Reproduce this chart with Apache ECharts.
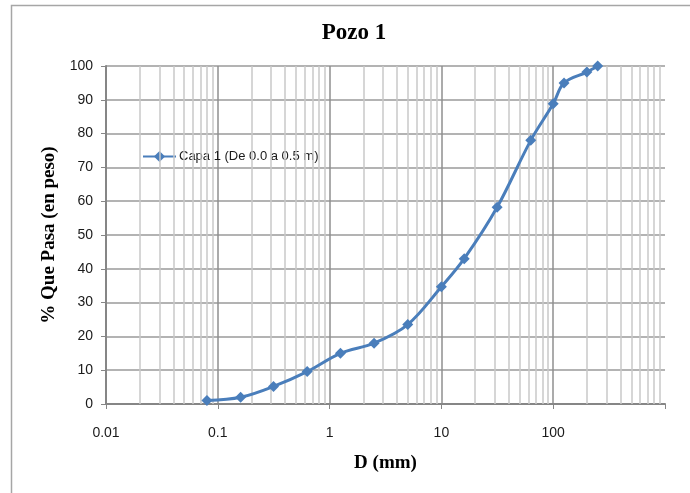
<!DOCTYPE html>
<html>
<head>
<meta charset="utf-8">
<title>Pozo 1</title>
<script src="https://cdn.jsdelivr.net/npm/echarts@6/dist/echarts.min.js"></script>
<style>
  html, body { margin: 0; padding: 0; background: #ffffff; }
  #chart { width: 690px; height: 493px; }
</style>
</head>
<body>
<div id="chart"></div>
<script>
// Sieve sizes (mm) and cumulative percent passing
const sieveSizes = [0.08, 0.16, 0.315, 0.63, 1.25, 2.5, 5, 10, 16, 31.5, 63, 100, 125, 200, 250];
const percentPassing = [1, 2, 5.2, 9.6, 15, 18, 23.5, 34.7, 43, 58.2, 78, 88.8, 95, 98.2, 100];
const seriesName = 'Capa 1 (De 0.0 a 0.5 m)';

// Axis ranges and labels
const xDecades = [0.01, 0.1, 1, 10, 100, 1000];
const xTickLabels = ['0.01', '0.1', '1', '10', '100', ''];
const yTicks = [0, 10, 20, 30, 40, 50, 60, 70, 80, 90, 100];

// Intermediate log grid lines (2..9 within each decade)
const minorLines = [];
for (let d = 0; d < xDecades.length - 1; d++) {
  for (let m = 2; m <= 9; m++) {
    minorLines.push({ xAxis: +(xDecades[d] * m).toPrecision(6) });
  }
}

const points = sieveSizes.map((s, i) => [s, percentPassing[i]]);

const chart = echarts.init(document.getElementById('chart'), null, { renderer: 'canvas' });

chart.setOption({
  animation: false,
  backgroundColor: '#ffffff',
  graphic: [
    {
      type: 'rect',
      shape: { x: 11.5, y: 5.5, width: 700, height: 500 },
      style: { fill: 'none', stroke: '#a6a6a6', lineWidth: 1.5 },
      silent: true, z: -10
    },
    {
      type: 'text',
      x: 354, y: 33,
      style: {
        text: 'Pozo 1',
        font: 'bold 23px "Liberation Serif", "Times New Roman", serif',
        fill: '#000000',
        textAlign: 'center',
        textVerticalAlign: 'middle'
      },
      silent: true
    }
  ],
  grid: { left: 106, right: 25, top: 66, bottom: 89, containLabel: false },
  legend: {
    left: 137, top: 145,
    itemWidth: 33, itemHeight: 14, itemGap: 6,
    data: [seriesName],
    textStyle: { fontFamily: '"Liberation Sans", Arial, sans-serif', fontSize: 13, color: '#1a1a1a', padding: [0, 0, 0, -2] }
  },
  xAxis: {
    type: 'log',
    logBase: 10,
    min: xDecades[0],
    max: xDecades[xDecades.length - 1],
    name: 'D (mm)',
    nameLocation: 'middle',
    nameGap: 50,
    nameTextStyle: { fontFamily: '"Liberation Serif", "Times New Roman", serif', fontWeight: 'bold', fontSize: 19, color: '#000' },
    axisLine: { onZero: false, lineStyle: { color: '#868686', width: 2 } },
    axisTick: { show: true, inside: false, length: 5, lineStyle: { color: '#868686' } },
    axisLabel: {
      margin: 22,
      fontFamily: '"Liberation Sans", Arial, sans-serif', fontSize: 14, color: '#1a1a1a',
      formatter: function (v) {
        const idx = xDecades.findIndex(d => Math.abs(Math.log10(d) - Math.log10(v)) < 1e-6);
        return idx >= 0 ? xTickLabels[idx] : '';
      }
    },
    splitLine: { show: true, showMaxLine: false, lineStyle: { color: '#8f8f8f', width: 1.5 } }
  },
  yAxis: {
    type: 'value',
    min: yTicks[0],
    max: yTicks[yTicks.length - 1],
    interval: 10,
    name: '% Que Pasa (en peso)',
    nameLocation: 'middle',
    nameGap: 47,
    nameTextStyle: { fontFamily: '"Liberation Serif", "Times New Roman", serif', fontWeight: 'bold', fontSize: 19, color: '#000' },
    axisLine: { show: true, lineStyle: { color: '#868686', width: 2 } },
    axisTick: { show: true, inside: false, length: 5, lineStyle: { color: '#868686' } },
    axisLabel: { margin: 13, fontFamily: '"Liberation Sans", Arial, sans-serif', fontSize: 14, color: '#1a1a1a' },
    splitLine: { show: true, lineStyle: { color: '#9a9a9a', width: 1.5 } }
  },
  series: [
    {
      name: '__minorGrid',
      type: 'line',
      data: [],
      silent: true,
      z: 1,
      markLine: {
        silent: true,
        symbol: ['none', 'none'],
        label: { show: false },
        animation: false,
        lineStyle: { color: '#c8c8c8', width: 1.5, type: 'solid' },
        data: minorLines
      }
    },
    {
      name: seriesName,
      type: 'line',
      data: points,
      z: 5,
      smooth: 0.35,
      symbol: 'diamond',
      symbolSize: 11,
      lineStyle: { color: '#4a7ebb', width: 3 },
      itemStyle: { color: '#4a7ebb' }
    }
  ]
});
</script>
</body>
</html>
